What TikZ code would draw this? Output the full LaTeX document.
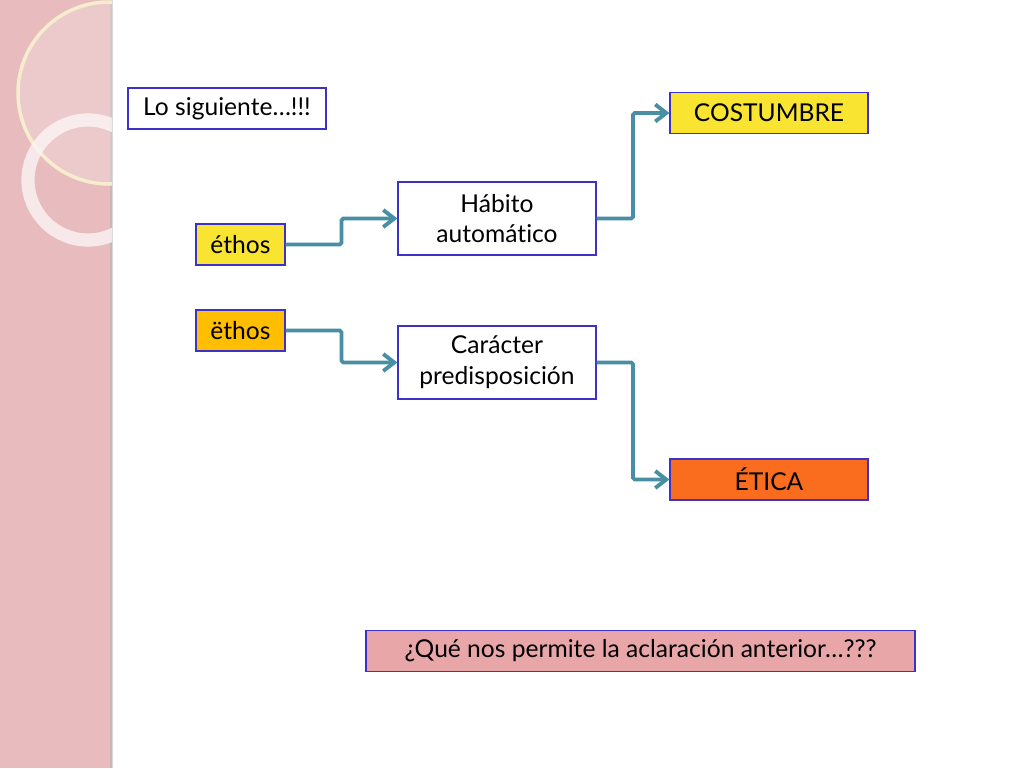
\documentclass[tikz,border=0pt]{standalone}
\usepackage{fontspec}
\setmainfont[Ligatures=NoCommon]{Lato}
\usetikzlibrary{positioning, arrows.meta, calc}

\definecolor{boxblue}{RGB}{60,50,200}
\definecolor{linkteal}{RGB}{72,142,164}
\definecolor{sidepink}{RGB}{232,188,191}
\definecolor{ringcream}{RGB}{246,236,206}
\definecolor{yellowbox}{RGB}{250,228,50}
\definecolor{amberbox}{RGB}{255,190,0}
\definecolor{orangebox}{RGB}{250,108,30}
\definecolor{rosebox}{RGB}{232,166,168}

\tikzset{
  box/.style={draw=boxblue, line width=0.7pt, align=center, inner sep=0pt,
    minimum width=3.96cm, minimum height=0.82cm, font=\fontsize{14}{17.6}\selectfont},
  smallbox/.style={box, minimum width=1.78cm},
  link/.style={draw=linkteal, line width=2.2pt, rounded corners=1pt,
    -{Straight Barb[length=2.2mm, width=3.4mm]}}
}

\begin{document}
\begin{tikzpicture}[x=0.02cm, y=-0.02cm]
  \useasboundingbox (0,0) rectangle (1024,768);
  \fill[white] (0,0) rectangle (1024,768);

  % Side strip
  \fill[sidepink] (0,0) rectangle (112,768);
  \fill[black!30, opacity=0.5] (110,0) rectangle (113,768);
  \begin{scope}
    \clip (0,0) rectangle (112,768);
    \fill[white, opacity=0.2] (109,93) circle (91);
    \draw[ringcream, line width=2pt] (109,93) circle (91);
    \draw[white!85!sidepink, opacity=0.8, line width=7.5pt] (88,180) circle (60);
  \end{scope}

  % Nodes
  \node[box, minimum width=3.96cm] (intro) at (227,108.5) {Lo siguiente…!!!};
  \node[smallbox, fill=yellowbox] (ethos) at (240.5,244.5) {éthos};
  \node[smallbox, fill=amberbox] (ethos2) at (240.5,330.5) {ëthos};
  \node[box, minimum height=1.46cm] (habito) at (497,218.5) {Hábito\\automático};
  \node[box, minimum height=1.46cm] (caracter) at (497,362.5) {Carácter\\predisposición};
  \node[box, fill=yellowbox] (costumbre) at (769,113) {COSTUMBRE};
  \node[box, fill=orangebox] (etica) at (769,479.5) {ÉTICA};
  \node[box, fill=rosebox, minimum width=10.98cm] (pregunta) at (640.5,651)
    {¿Qué nos permite la aclaración anterior…???};

  % Arrows
  \foreach \a/\b in {ethos/habito, ethos2/caracter, habito/costumbre, caracter/etica}
  \draw[link] (\a.east) -| ($(\a.east)!.5!(\b.west)$) |- (\b.west);
\end{tikzpicture}
\end{document}
